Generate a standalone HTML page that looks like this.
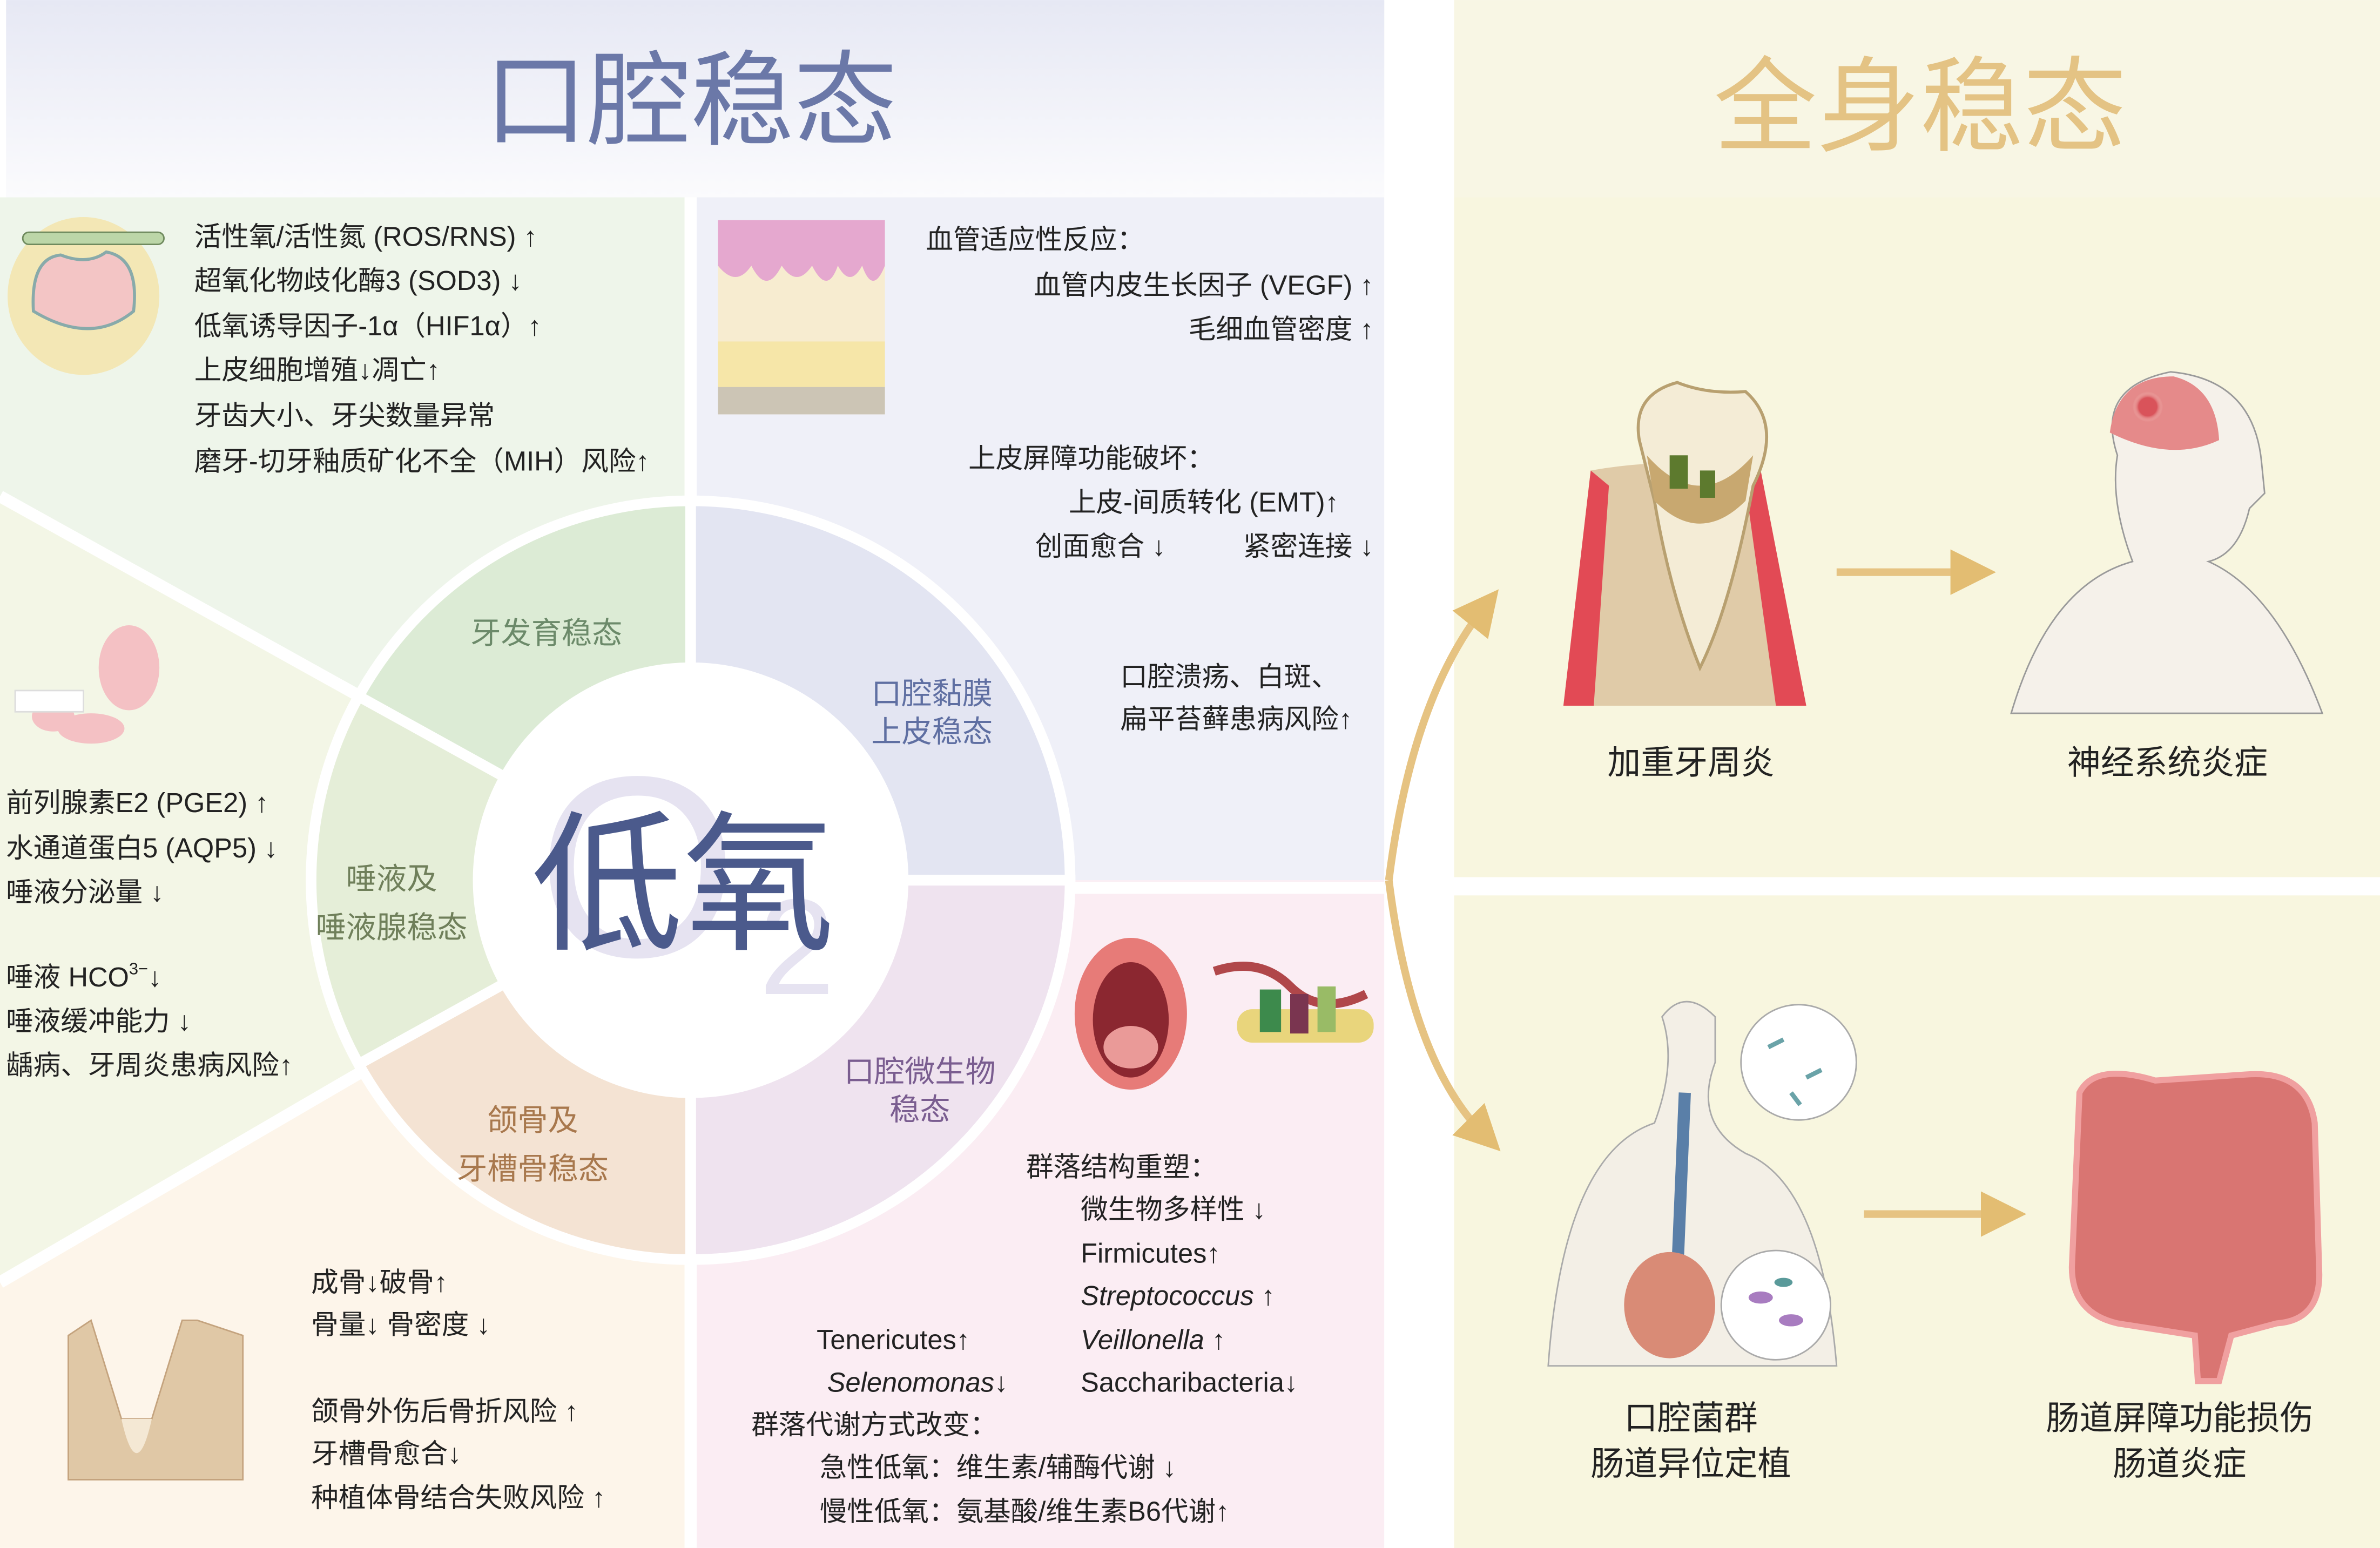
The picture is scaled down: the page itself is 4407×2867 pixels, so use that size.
<!DOCTYPE html>
<html><head><meta charset="utf-8"><style>
html,body{margin:0;padding:0;background:#fff}
svg{display:block}
text{font-family:"Liberation Sans","Noto Sans CJK SC",sans-serif;fill:#222}
</style></head><body>
<svg width="4407" height="2867" viewBox="0 0 1568 1020" xmlns="http://www.w3.org/2000/svg">
<defs>
<linearGradient id="hg" x1="0" y1="0" x2="0" y2="1"><stop offset="0" stop-color="#e6e8f4"/><stop offset="1" stop-color="#fbfbfd"/></linearGradient>
<radialGradient id="red" cx=".5" cy=".5" r=".5"><stop offset=".6" stop-color="#d9535a"/><stop offset="1" stop-color="#f6d0c8" stop-opacity="0"/></radialGradient>
<marker id="ah" markerWidth="6" markerHeight="6" refX="3" refY="3" orient="auto"><path d="M0,0 L6,3 L0,6 z" fill="#e3bd72"/></marker>
</defs>
<rect width="1568" height="1020" fill="#fff"/>
<rect x="4" y="0" width="908" height="130" fill="url(#hg)"/>
<text x="455" y="90" font-size="68" text-anchor="middle" style="fill:#6b78a8">口腔稳态</text>
<rect x="958" y="0" width="610" height="130" fill="#f8f6e4"/>
<text x="1265" y="94" font-size="68" text-anchor="middle" style="fill:#e4c384">全身稳态</text>
<clipPath id="lc"><rect x="0" y="130" width="912" height="890"/></clipPath>
<g clip-path="url(#lc)">
<polygon points="455,580 0,327 0,130 455,130" fill="#eef5ea"/>
<polygon points="455,580 455,130 912,130 912,580" fill="#eff0f8"/>
<polygon points="455,580 912,580 912,1020 455,1020" fill="#fbedf3"/>
<polygon points="455,580 455,1020 0,1020 0,845" fill="#fdf5ea"/>
<polygon points="455,580 0,845 0,327" fill="#f3f6e6"/>
<g stroke="#fff" stroke-width="8">
<line x1="455" y1="580" x2="0" y2="327"/><line x1="455" y1="580" x2="0" y2="845"/>
<line x1="455" y1="130" x2="455" y2="1020"/><line x1="455" y1="585" x2="912" y2="585"/>
</g>
</g>
<g transform="translate(455,580)" stroke="#fff" stroke-width="7">
<path d="M-218.7,-121.2 A250,250 0 0 1 0,-250 L0,-140 A140,140 0 0 0 -122.4,-67.9 Z" fill="#dcebd5"/>
<path d="M0,-250 A250,250 0 0 1 250,0 L140,0 A140,140 0 0 0 0,-140 Z" fill="#e3e5f2"/>
<path d="M250,0 A250,250 0 0 1 0,250 L0,140 A140,140 0 0 0 140,0 Z" fill="#efe3ef"/>
<path d="M0,250 A250,250 0 0 1 -218.7,121.2 L-122.4,67.9 A140,140 0 0 0 0,140 Z" fill="#f4e3d3"/>
<path d="M-218.7,121.2 A250,250 0 0 1 -218.7,-121.2 L-122.4,-67.9 A140,140 0 0 0 -122.4,67.9 Z" fill="#e5eed8"/>
<circle r="137" fill="#fff" stroke="none"/>
</g>
<text x="420" y="630" font-size="170" text-anchor="middle" style="fill:#e6e3f1">O</text>
<text x="525" y="655" font-size="90" text-anchor="middle" style="fill:#e6e3f1">2</text>
<text x="450" y="618" font-size="100" text-anchor="middle" style="fill:#4b5a8c">低氧</text>
<g font-size="20" text-anchor="middle">
<text x="360" y="424" style="fill:#6c8a6a">牙发育稳态</text>
<text x="614" y="464" style="fill:#5f6fa2">口腔黏膜</text><text x="614" y="489" style="fill:#5f6fa2">上皮稳态</text>
<text x="606" y="713" style="fill:#7a5d90">口腔微生物</text><text x="606" y="738" style="fill:#7a5d90">稳态</text>
<text x="351" y="745" style="fill:#a8784d">颌骨及</text><text x="351" y="777" style="fill:#a8784d">牙槽骨稳态</text>
<text x="258" y="586" style="fill:#6f7f5a">唾液及</text><text x="258" y="618" style="fill:#6f7f5a">唾液腺稳态</text>
</g>
<g font-size="18">
<text x="128" y="162">活性氧/活性氮 (ROS/RNS) ↑</text>
<text x="128" y="191">超氧化物歧化酶3 (SOD3) ↓</text>
<text x="128" y="221">低氧诱导因子-1α（HIF1α）↑</text>
<text x="128" y="250">上皮细胞增殖↓凋亡↑</text>
<text x="128" y="280">牙齿大小、牙尖数量异常</text>
<text x="128" y="310">磨牙-切牙釉质矿化不全（MIH）风险↑</text>
<text x="610" y="164">血管适应性反应：</text>
<text x="905" y="194" text-anchor="end">血管内皮生长因子 (VEGF) ↑</text>
<text x="905" y="223" text-anchor="end">毛细血管密度 ↑</text>
<text x="638" y="308">上皮屏障功能破坏：</text>
<text x="882" y="337" text-anchor="end">上皮-间质转化 (EMT)↑</text>
<text x="682" y="366">创面愈合 ↓</text><text x="905" y="366" text-anchor="end">紧密连接 ↓</text>
<text x="738" y="452">口腔溃疡、白斑、</text>
<text x="738" y="480">扁平苔藓患病风险↑</text>
<text x="4" y="535">前列腺素E2 (PGE2) ↑</text>
<text x="4" y="565">水通道蛋白5 (AQP5) ↓</text>
<text x="4" y="594">唾液分泌量 ↓</text>
<text x="4" y="650">唾液 HCO<tspan font-size="11" dy="-8">3−</tspan><tspan dy="8">↓</tspan></text>
<text x="4" y="679">唾液缓冲能力 ↓</text>
<text x="4" y="708">龋病、牙周炎患病风险↑</text>
<text x="205" y="851">成骨↓破骨↑</text>
<text x="205" y="879">骨量↓ 骨密度 ↓</text>
<text x="205" y="936">颌骨外伤后骨折风险 ↑</text>
<text x="205" y="964">牙槽骨愈合↓</text>
<text x="205" y="993">种植体骨结合失败风险 ↑</text>
<text x="676" y="775">群落结构重塑：</text>
<text x="712" y="803">微生物多样性 ↓</text>
<text x="712" y="832">Firmicutes↑</text>
<text x="712" y="860" font-style="italic">Streptococcus<tspan font-style="normal"> ↑</tspan></text>
<text x="712" y="889" font-style="italic">Veillonella<tspan font-style="normal"> ↑</tspan></text>
<text x="712" y="917">Saccharibacteria↓</text>
<text x="538" y="889">Tenericutes↑</text>
<text x="545" y="917" font-style="italic">Selenomonas<tspan font-style="normal">↓</tspan></text>
<text x="495" y="945">群落代谢方式改变：</text>
<text x="540" y="973">急性低氧：维生素/辅酶代谢 ↓</text>
<text x="540" y="1002">慢性低氧：氨基酸/维生素B6代谢↑</text>
</g>
<ellipse cx="55" cy="195" rx="50" ry="52" fill="#f3e7b5"/>
<rect x="15" y="153" width="93" height="8" rx="4" fill="#bcd6a8" stroke="#6f8a5e"/>
<path d="M22,205 Q20,170 40,168 Q58,175 70,166 Q92,170 88,205 Q60,228 22,205Z" fill="#f3c5c5" stroke="#8aa" stroke-width="2"/>
<rect x="473" y="145" width="110" height="128" fill="#f7ecd0"/>
<path d="M473,145 L583,145 L583,175 Q575,195 568,175 Q560,190 552,175 Q545,195 535,175 Q525,190 515,175 Q505,195 495,175 Q485,190 473,175 Z" fill="#e5a8cf"/>
<rect x="473" y="225" width="110" height="30" fill="#f6e6a8"/>
<rect x="473" y="255" width="110" height="18" fill="#ccc5b5"/>
<g fill="#f4c1c4"><ellipse cx="85" cy="440" rx="20" ry="28"/><ellipse cx="60" cy="480" rx="22" ry="10"/><ellipse cx="35" cy="472" rx="14" ry="10"/></g>
<rect x="10" y="455" width="45" height="14" fill="#fff" stroke="#ddd"/>
<path d="M45,975 L45,880 L60,870 L80,935 L100,935 L120,870 L130,870 L160,880 L160,975 Z" fill="#e0c8a6" stroke="#c4a37e"/>
<path d="M80,935 Q90,980 100,935" fill="#f4e8d4"/>
<ellipse cx="745" cy="668" rx="37" ry="50" fill="#e77b78"/>
<ellipse cx="745" cy="672" rx="25" ry="38" fill="#8b2730"/>
<ellipse cx="745" cy="690" rx="18" ry="14" fill="#ea9a98"/>
<path d="M800,640 Q830,630 850,650 T900,655" stroke="#b0474a" stroke-width="6" fill="none"/>
<rect x="815" y="665" width="90" height="22" rx="10" fill="#e9d57c"/>
<rect x="830" y="652" width="14" height="28" fill="#3d8a4c"/><rect x="850" y="655" width="12" height="26" fill="#7a3550"/><rect x="868" y="650" width="12" height="30" fill="#9b6"/>
<rect x="958" y="130" width="610" height="448" fill="#f8f6df"/>
<rect x="958" y="590" width="610" height="430" fill="#f8f6df"/>
<g font-size="22" text-anchor="middle">
<text x="1114" y="510">加重牙周炎</text>
<text x="1428" y="510">神经系统炎症</text>
<text x="1114" y="942">口腔菌群</text><text x="1114" y="972">肠道异位定植</text>
<text x="1436" y="942">肠道屏障功能损伤</text><text x="1436" y="972">肠道炎症</text>
</g>
<path d="M1030,465 L1048,310 Q1105,300 1160,310 L1190,465 Z" fill="#e0cba8"/>
<path d="M1048,310 L1060,320 L1050,465 L1030,465 Z M1160,310 L1150,320 L1170,465 L1190,465Z" fill="#e24a55"/>
<path d="M1080,290 Q1075,260 1105,252 Q1125,260 1150,258 Q1175,280 1155,320 Q1140,400 1120,440 Q1100,390 1090,330 Z" fill="#f4ecd6" stroke="#b8a070" stroke-width="2"/>
<path d="M1085,300 Q1120,340 1155,300 L1150,330 Q1120,360 1090,330Z" fill="#c8a870"/>
<g fill="#5d7a2e"><rect x="1100" y="300" width="12" height="22"/><rect x="1120" y="310" width="10" height="18"/></g>
<path d="M1325,470 Q1350,385 1405,370 Q1390,330 1395,300 Q1380,255 1430,245 Q1485,250 1490,305 L1492,325 L1482,335 Q1475,365 1455,370 Q1500,390 1530,470 Z" fill="#f5f1ea" stroke="#9a9a9a"/>
<path d="M1390,285 Q1395,248 1432,248 Q1460,255 1462,290 Q1430,305 1390,285Z" fill="#e58a8a"/>
<circle cx="1415" cy="268" r="10" fill="url(#red)"/>
<path d="M1020,900 Q1030,760 1090,740 Q1105,700 1095,670 Q1110,650 1130,670 L1130,700 Q1115,740 1150,760 Q1200,780 1210,900 Z" fill="#f3efe6" stroke="#aaa"/>
<line x1="1110" y1="720" x2="1105" y2="840" stroke="#5a7fa8" stroke-width="8"/>
<ellipse cx="1100" cy="860" rx="30" ry="35" fill="#d98b76"/>
<circle cx="1185" cy="700" r="38" fill="#fff" stroke="#aaa"/>
<circle cx="1170" cy="860" r="36" fill="#fff" stroke="#aaa"/>
<g stroke="#6aa3a8" stroke-width="3"><line x1="1165" y1="690" x2="1175" y2="685"/><line x1="1190" y1="710" x2="1200" y2="705"/><line x1="1180" y1="720" x2="1186" y2="728"/></g>
<g fill="#a87cc0"><ellipse cx="1160" cy="855" rx="8" ry="4"/><ellipse cx="1180" cy="870" rx="8" ry="4"/><ellipse cx="1175" cy="845" rx="6" ry="3" fill="#5a9a9a"/></g>
<path d="M1370,720 Q1380,700 1420,712 L1480,708 Q1520,705 1525,740 L1528,840 Q1528,870 1500,872 L1470,880 L1462,910 L1448,910 L1446,880 L1395,872 Q1365,865 1365,835 Z" fill="#d97572" stroke="#f0a0a0" stroke-width="4"/>
<g stroke="#e6c382" stroke-width="5" fill="none">
<line x1="1210" y1="377" x2="1300" y2="377" marker-end="url(#ah)"/>
<line x1="1228" y1="800" x2="1320" y2="800" marker-end="url(#ah)"/>
<path d="M915,580 Q930,460 978,400" marker-end="url(#ah)"/>
<path d="M915,580 Q930,700 978,748" marker-end="url(#ah)"/>
</g>
</svg>
</body></html>
